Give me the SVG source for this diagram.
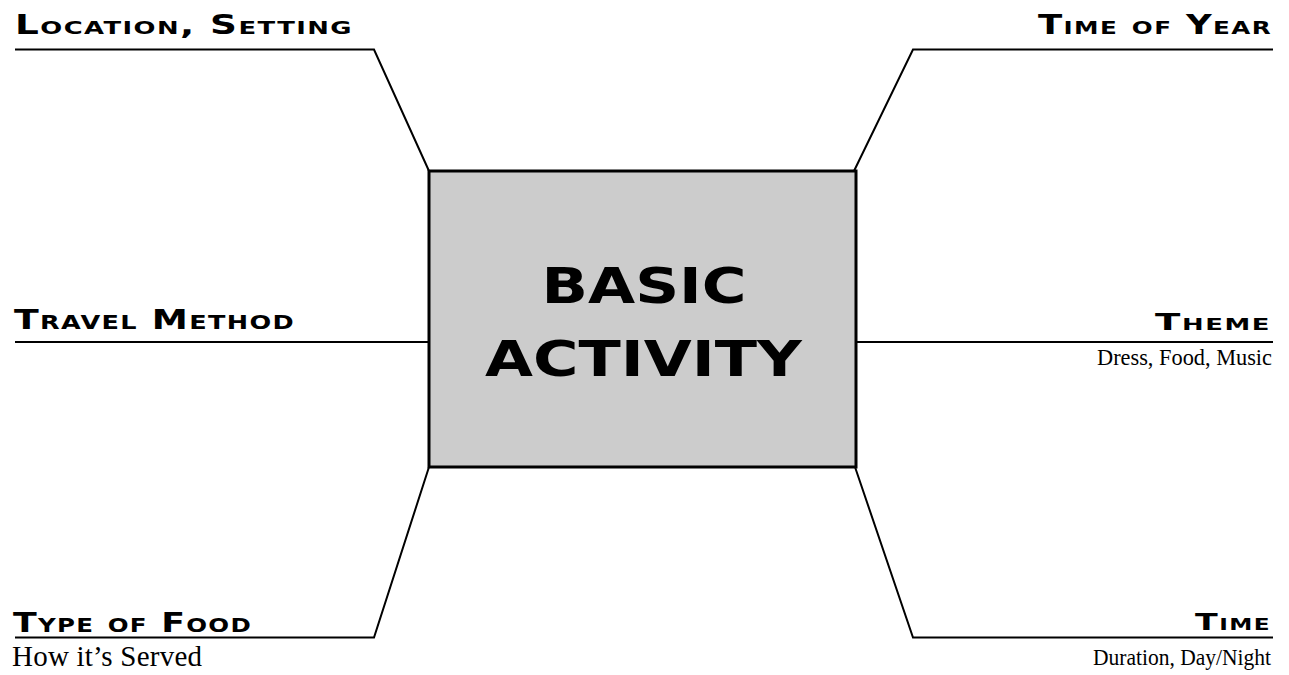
<svg xmlns="http://www.w3.org/2000/svg" width="1289" height="675" viewBox="0 0 1289 675">
  <style>
    .conn { fill: none; stroke: #000; stroke-width: 2; stroke-linejoin: miter; }
    .head { font-family: "DejaVu Sans", "Liberation Sans", sans-serif; font-weight: bold; font-variant: small-caps; letter-spacing: 1px; fill: #000; }
    .sub { font-family: "Liberation Serif", "Times New Roman", serif; fill: #000; }
    .center { font-family: "DejaVu Sans", "Liberation Sans", sans-serif; font-weight: bold; font-size: 49px; fill: #000; text-anchor: middle; }
    .box { fill: #cccccc; stroke: #000; stroke-width: 3; }
  </style>
  <rect x="0" y="0" width="1289" height="675" fill="#ffffff"/>
  <g id="connectors">
    <polyline class="conn" points="15,49.5 374,49.5 429,171"/>
    <polyline class="conn" points="1273,49.5 913,49.5 854,171"/>
    <polyline class="conn" points="15,342 429,342"/>
    <polyline class="conn" points="856,342 1273,342"/>
    <polyline class="conn" points="15,637.5 374,637.5 429,467"/>
    <polyline class="conn" points="1273,637.5 913,637.5 855,467"/>
  </g>
  <g id="basic-activity">
    <rect class="box" x="429" y="171" width="427" height="296"/>
    <text class="center" x="644" y="302.5" textLength="205" lengthAdjust="spacingAndGlyphs">BASIC</text>
    <text class="center" x="643.5" y="376" textLength="317" lengthAdjust="spacingAndGlyphs">ACTIVITY</text>
  </g>
  <g id="location-setting">
    <text class="head" x="15" y="34" font-size="26" textLength="338" lengthAdjust="spacingAndGlyphs">Location, Setting</text>
  </g>
  <g id="time-of-year">
    <text class="head" x="1038" y="34" font-size="26" textLength="234" lengthAdjust="spacingAndGlyphs">Time of Year</text>
  </g>
  <g id="travel-method">
    <text class="head" x="14" y="329" font-size="27" textLength="281" lengthAdjust="spacingAndGlyphs">Travel Method</text>
  </g>
  <g id="theme">
    <text class="head" x="1155" y="329.5" font-size="23" textLength="116" lengthAdjust="spacingAndGlyphs">Theme</text>
    <text class="sub" x="1097" y="365" font-size="23.5" textLength="175" lengthAdjust="spacingAndGlyphs">Dress, Food, Music</text>
  </g>
  <g id="type-of-food">
    <text class="head" x="13" y="631.5" font-size="27" textLength="239" lengthAdjust="spacingAndGlyphs">Type of Food</text>
    <text class="sub" x="12" y="665.5" font-size="29" textLength="190" lengthAdjust="spacing">How it’s Served</text>
  </g>
  <g id="time">
    <text class="head" x="1195" y="629.5" font-size="23" textLength="76" lengthAdjust="spacingAndGlyphs">Time</text>
    <text class="sub" x="1093" y="664.5" font-size="23" textLength="178" lengthAdjust="spacingAndGlyphs">Duration, Day/Night</text>
  </g>
</svg>
